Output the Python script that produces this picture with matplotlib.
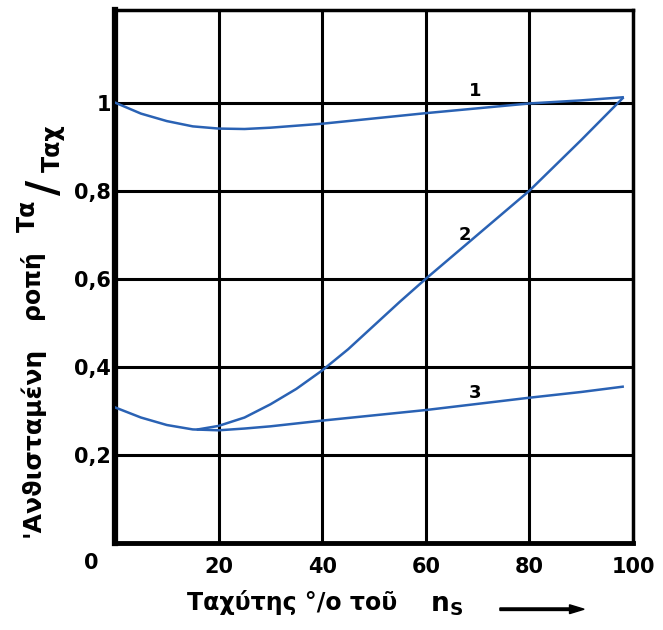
import matplotlib
matplotlib.use("Agg")
from matplotlib import pyplot as plt

# values
x1 = [0, 5, 10, 15, 20, 25, 30, 40, 50, 60, 70, 80, 90, 98]
y1 = [1.0, 0.975, 0.958, 0.946, 0.941, 0.940, 0.943, 0.952, 0.964, 0.976, 0.987, 0.998, 1.005, 1.012]
x2 = [16, 20, 25, 30, 35, 40, 45, 50, 55, 60, 70, 80, 90, 98]
y2 = [0.258, 0.266, 0.285, 0.315, 0.350, 0.392, 0.440, 0.494, 0.548, 0.600, 0.700, 0.800, 0.915, 1.010]
x3 = [0, 5, 10, 15, 20, 25, 30, 40, 50, 60, 70, 80, 90, 98]
y3 = [0.308, 0.285, 0.268, 0.258, 0.256, 0.260, 0.265, 0.278, 0.290, 0.302, 0.316, 0.330, 0.343, 0.355]
xticks = [20, 40, 60, 80, 100]
yticks = [0.2, 0.4, 0.6, 0.8, 1.0]
ylabels = ['0,2', '0,4', '0,6', '0,8', '1']
curve_names = ['1', '2', '3']
name_pos = [(69.5, 1.027), (67.6, 0.70), (69.5, 0.341)]

blue = '#2a62b4'
fig = plt.figure(figsize=(6.63, 6.30), dpi=100)
ax = fig.add_axes([0.1735, 0.138, 0.7813, 0.846])

for xs, ys in [(x1, y1), (x2, y2), (x3, y3)]:
    ax.plot(xs, ys, color=blue, lw=1.8, zorder=3)

for v in xticks[:-1]:
    ax.axvline(v, color='black', lw=2.2, zorder=2)
for v in yticks:
    ax.axhline(v, color='black', lw=2.2, zorder=2)

for name, (px, py) in zip(curve_names, name_pos):
    ax.text(px, py, name, fontsize=13, fontweight='bold', ha='center', va='center')

ax.set_xlim(0, 100)
ax.set_ylim(0, 1.21)
ax.set_xticks(xticks)
ax.set_yticks(yticks)
ax.set_yticklabels(ylabels)
ax.tick_params(length=0, labelsize=15)
ax.tick_params(axis='x', pad=10)
ax.tick_params(axis='y', pad=3)
for lab in ax.get_xticklabels() + ax.get_yticklabels():
    lab.set_fontweight('bold')
for side, w in [('left', 4.5), ('bottom', 3.5), ('right', 2.5), ('top', 2.5)]:
    ax.spines[side].set_linewidth(w)

ax.text(-4.5, -0.045, '0', fontsize=15, fontweight='bold', ha='center', va='center')

# y label, pieced together like the original
fig.text(0.048, 0.298, "'Ανϑισταμένη", rotation=90, fontsize=18,
         fontweight='bold', ha='center', va='center')
fig.text(0.048, 0.549, "ροπή", rotation=90, fontsize=17,
         fontweight='bold', ha='center', va='center')
fig.text(0.042, 0.658, "Τα", rotation=90, fontsize=17,
         fontweight='bold', ha='center', va='center')
fig.text(0.068, 0.703, "/", rotation=90, fontsize=30,
         fontweight='bold', ha='center', va='center')
fig.text(0.080, 0.765, "Ταχ", rotation=90, fontsize=17,
         fontweight='bold', ha='center', va='center')

# x label
fig.text(0.282, 0.043, "Ταχύτης °/ο τοῦ", fontsize=17,
         fontweight='bold', ha='left', va='center')
fig.text(0.648, 0.040, r"$\mathbf{n}_{\mathbf{S}}$", fontsize=19,
         ha='left', va='center')
fig.patches.append(matplotlib.patches.FancyArrow(
    0.754, 0.033, 0.105, 0, width=0.004, head_width=0.014, head_length=0.022,
    color='black', transform=fig.transFigure, figure=fig))

fig.savefig('out.png', dpi=100)
